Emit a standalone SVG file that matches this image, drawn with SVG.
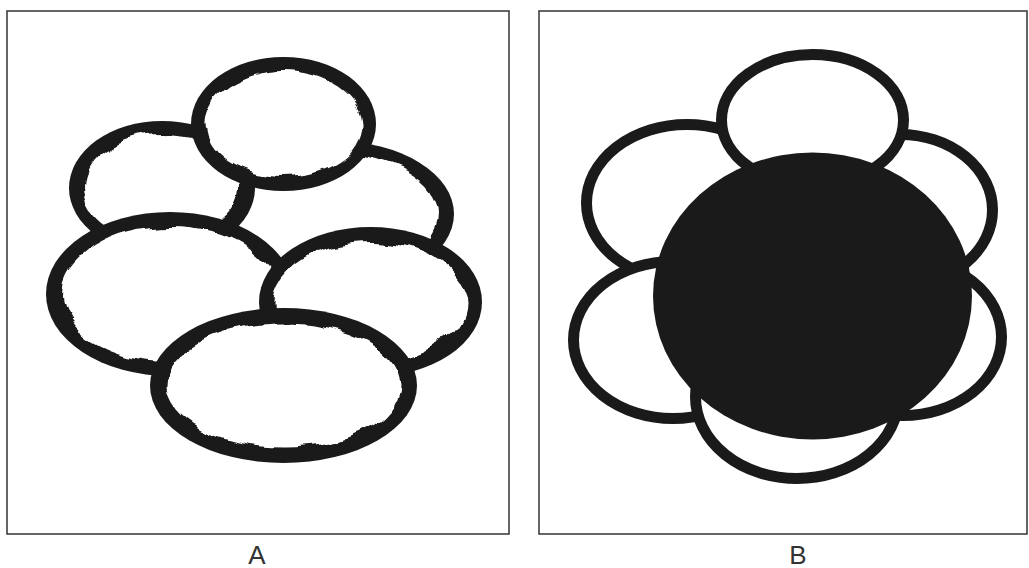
<svg xmlns="http://www.w3.org/2000/svg" width="1029" height="568" viewBox="0 0 1029 568">
<defs>
<style>
.frame{fill:#fff;stroke:#333;stroke-width:1.5}
.ring{fill:#1a1a1a}
.hole{fill:#fff;filter:url(#rough)}
.petal{fill:#fff;stroke:#1a1a1a;stroke-width:11}
.core{fill:#1a1a1a}
.lbl{font-family:"Liberation Sans",Arial,sans-serif;font-size:26px;fill:#333;text-anchor:middle}
</style>
<filter id="rough" x="-10%" y="-10%" width="120%" height="120%">
<feTurbulence type="fractalNoise" baseFrequency="0.04" numOctaves="1" seed="7" result="n"/>
<feDisplacementMap in="SourceGraphic" in2="n" scale="16" xChannelSelector="R" yChannelSelector="G"/>
</filter>
</defs>
<rect width="1029" height="568" fill="#fff"/>
<g id="panelA">
<rect class="frame" x="7" y="11" width="502" height="523"/>
<g id="a-upper-right"><ellipse class="ring" cx="335" cy="214" rx="119" ry="73"/><ellipse class="hole" cx="335" cy="214" rx="103" ry="58"/></g>
<g id="a-upper-left"><ellipse class="ring" cx="162" cy="188" rx="93" ry="67"/><ellipse class="hole" cx="162" cy="188" rx="78" ry="53"/></g>
<g id="a-top"><ellipse class="ring" cx="283.5" cy="124" rx="92.5" ry="67"/><ellipse class="hole" cx="283.5" cy="124" rx="78" ry="53"/></g>
<g id="a-mid-left"><ellipse class="ring" cx="170" cy="294" rx="124" ry="82"/><ellipse class="hole" cx="170" cy="294" rx="107" ry="67"/></g>
<g id="a-mid-right"><ellipse class="ring" cx="370.5" cy="302" rx="111.5" ry="75"/><ellipse class="hole" cx="370.5" cy="302" rx="96" ry="60"/></g>
<g id="a-bottom"><ellipse class="ring" cx="283.5" cy="385.5" rx="133.5" ry="77.5"/><ellipse class="hole" cx="283.5" cy="385.5" rx="117" ry="62"/></g>
<text class="lbl" x="257" y="564">A</text>
</g>
<g id="panelB">
<rect class="frame" x="539" y="11" width="488" height="523"/>
<g id="b-upper-left"><ellipse class="petal" cx="687" cy="203" rx="100.5" ry="78.5"/></g>
<g id="b-upper-right"><ellipse class="petal" cx="900" cy="210" rx="92.5" ry="75.5"/></g>
<g id="b-top"><ellipse class="petal" cx="812.5" cy="120" rx="91" ry="65.5"/></g>
<g id="b-lower-left"><ellipse class="petal" cx="673" cy="340" rx="99.5" ry="78.5"/></g>
<g id="b-lower-right"><ellipse class="petal" cx="903" cy="337" rx="98.5" ry="78.5"/></g>
<g id="b-bottom"><ellipse class="petal" cx="797" cy="397" rx="101.5" ry="81.5"/></g>
<g id="b-core"><ellipse class="core" cx="812.5" cy="296" rx="159.5" ry="143.5"/></g>
<text class="lbl" x="798" y="564">B</text>
</g>
</svg>
